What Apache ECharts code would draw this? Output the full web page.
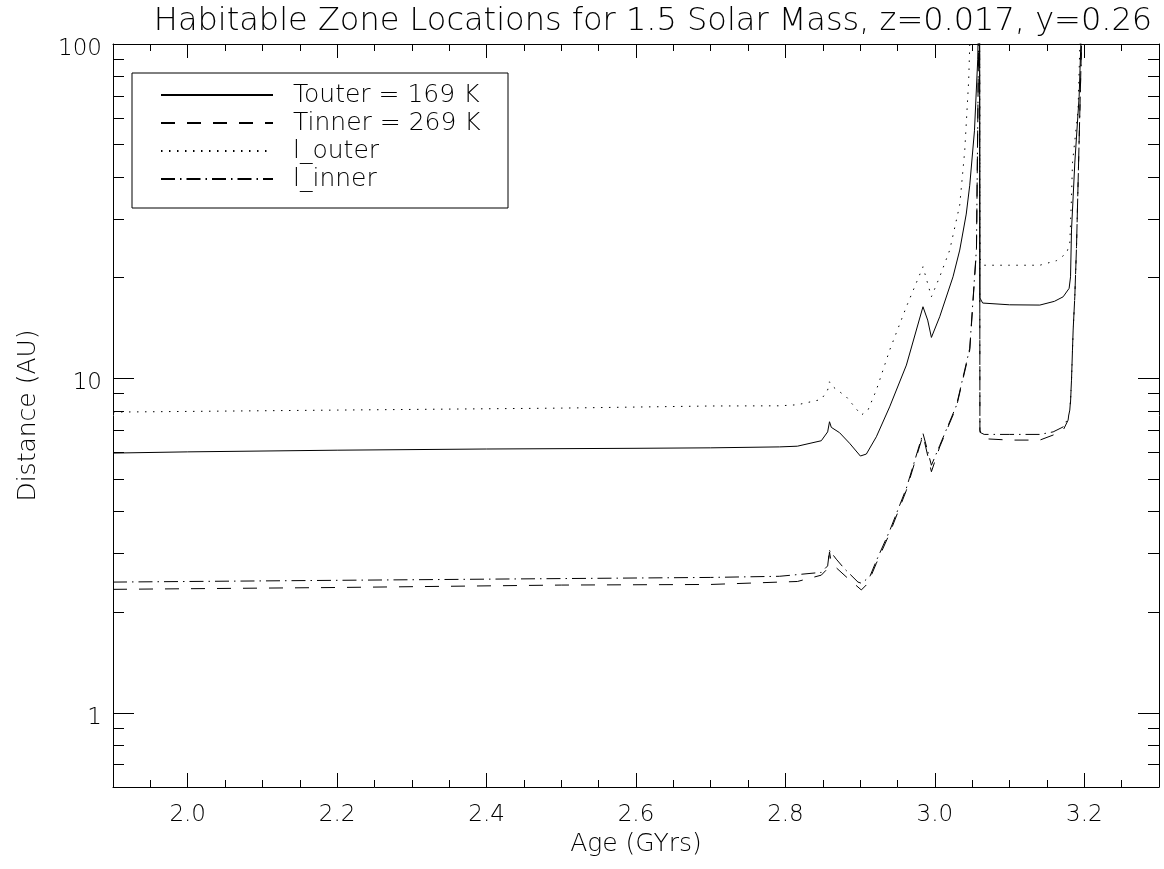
<!DOCTYPE html>
<html><head><meta charset="utf-8">
<script src="https://cdn.jsdelivr.net/npm/echarts@6/dist/echarts.min.js"></script>
<style>html,body{margin:0;padding:0;background:#fff}#chart{width:1164px;height:869px}</style>
</head><body><div id="chart"></div>
<script>
const titleText = 'Habitable Zone Locations for 1.5 Solar Mass, z=0.017, y=0.26';
const xName = 'Age (GYrs)';
const yName = 'Distance (AU)';
const seriesNames = ['Touter = 169 K', 'Tinner = 269 K', 'l_outer', 'l_inner'];

const xMajorTicks = [2.0, 2.2, 2.4, 2.6, 2.8, 3.0, 3.2];
const yMajorTicks = [1, 10, 100];
const yMinorTicks = [0.7, 0.8, 0.9, 2, 3, 4, 5, 6, 7, 8, 9, 20, 30, 40, 50, 60, 70, 80, 90];

// Touter (solid)
const touterAge = [1.9, 2.0, 2.2, 2.4, 2.6, 2.7, 2.792, 2.816, 2.848, 2.8565, 2.859, 2.8614, 2.8725, 2.8858, 2.9003, 2.9083, 2.9217, 2.9395, 2.9619, 2.9841, 2.9904, 2.9954, 3.0065, 3.0243, 3.0333, 3.042, 3.0467, 3.053, 3.0574, 3.059, 3.0598, 3.0603, 3.064, 3.10, 3.1405, 3.16, 3.1717, 3.1797, 3.1816, 3.1829, 3.1851, 3.1873, 3.1931, 3.1954, 3.197];
const touterDist = [5.98, 6.03, 6.10, 6.15, 6.18, 6.20, 6.24, 6.27, 6.51, 6.92, 7.42, 7.14, 6.88, 6.40, 5.86, 5.94, 6.69, 8.22, 10.96, 16.38, 14.94, 13.26, 15.29, 20.13, 24.2, 31, 37.8, 55, 90, 150, 200, 17.4, 16.8, 16.6, 16.57, 17.0, 17.54, 18.59, 20.13, 27.8, 34.9, 44.1, 69.6, 100, 150];

// Tinner (dashed)
const tinnerAge = [1.9, 2.2, 2.5, 2.7, 2.792, 2.816, 2.848, 2.8565, 2.859, 2.8614, 2.8814, 2.9016, 2.9105, 2.9217, 2.9395, 2.9619, 2.9841, 2.9954, 3.0065, 3.0289, 3.0467, 3.0557, 3.0585, 3.0598, 3.0603, 3.066, 3.10, 3.1405, 3.1583, 3.1717, 3.1783, 3.1816, 3.1829, 3.1842, 3.1851, 3.1873, 3.1896, 3.1918, 3.194, 3.1963, 3.199];
const tinnerDist = [2.34, 2.37, 2.41, 2.42, 2.46, 2.47, 2.58, 2.70, 3.03, 2.80, 2.55, 2.33, 2.44, 2.80, 3.44, 4.63, 6.77, 5.26, 6.24, 8.22, 12.15, 24.2, 100, 200, 7.0, 6.6, 6.54, 6.54, 6.77, 7.0, 7.5, 8.5, 9.88, 12.15, 13.95, 17.54, 24.76, 39.2, 62.2, 100, 150];

// l_outer (dotted)
const louterAge = [1.9, 2.2, 2.5, 2.7, 2.792, 2.816, 2.848, 2.8565, 2.859, 2.8636, 2.8815, 2.9016, 2.9105, 2.9217, 2.9395, 2.9619, 2.9841, 2.9954, 3.0065, 3.0199, 3.0333, 3.04, 3.0453, 3.047, 3.0598, 3.0603, 3.066, 3.10, 3.1405, 3.1628, 3.1762, 3.1806, 3.1829, 3.1842, 3.1917, 3.194, 3.197];
const louterDist = [7.93, 8.04, 8.15, 8.27, 8.28, 8.34, 8.65, 9.23, 9.77, 9.44, 8.81, 7.77, 8.04, 9.23, 12.15, 16.38, 21.57, 17.54, 20.13, 24.2, 33, 48, 78, 105, 300, 22.8, 21.8, 21.8, 21.8, 22.5, 23.65, 25.4, 34.9, 44.1, 63.5, 98, 150];

// l_inner (dash-dot)
const linnerAge = [1.9, 2.2, 2.5, 2.7, 2.792, 2.848, 2.8565, 2.859, 2.8681, 2.8788, 2.8971, 2.9016, 2.9128, 2.9217, 2.9395, 2.9619, 2.9841, 2.9954, 3.0065, 3.0289, 3.0467, 3.0557, 3.0585, 3.0598, 3.0603, 3.066, 3.10, 3.1405, 3.1583, 3.1717, 3.1783, 3.1806, 3.1816, 3.1829, 3.1842, 3.1851, 3.1873, 3.1896, 3.1918, 3.194, 3.1963, 3.199];
const linnerDist = [2.46, 2.49, 2.52, 2.54, 2.56, 2.63, 2.75, 3.06, 2.88, 2.70, 2.46, 2.44, 2.55, 2.85, 3.50, 4.70, 6.85, 5.5, 6.3, 8.3, 12.3, 24.5, 100, 200, 6.9, 6.8, 6.80, 6.80, 6.92, 7.16, 7.59, 8.04, 8.61, 9.88, 12.15, 13.95, 17.54, 24.76, 39.2, 62.2, 100, 150];

const FONT = '"DejaVu Sans", sans-serif';
const FW = 200;
const xMin = 1.9, xMax = 3.3, yMin = 0.6, yMax = 100;

const xMinorTicks = [];
for (let i = 38; i <= 66; i++) {
  const v = +(i * 0.05).toFixed(2);
  if (Math.abs(v * 5 - Math.round(v * 5)) > 1e-6) xMinorTicks.push(v);
}

const zip = (a, b) => a.map((x, i) => [x, b[i]]);
const axisLine = { show: true, lineStyle: { color: '#000', width: 1 } };

function xAxisDef(pos, ticks, len, labels, showLine) {
  return {
    type: 'value', min: xMin, max: xMax, position: pos,
    axisLine: showLine ? axisLine : { show: false },
    axisTick: { show: true, inside: true, length: len, customValues: ticks, lineStyle: { color: '#000', width: 1 } },
    axisLabel: labels ? { show: true, customValues: ticks, formatter: v => Number(v).toFixed(1), margin: 17, fontSize: 23, fontFamily: FONT, fontWeight: FW, color: '#000' } : { show: false },
    splitLine: { show: false }
  };
}
function yAxisDef(pos, ticks, len, labels, showLine) {
  return {
    type: 'log', logBase: 10, min: yMin, max: yMax, position: pos,
    axisLine: showLine ? axisLine : { show: false },
    axisTick: { show: true, inside: true, length: len, customValues: ticks, lineStyle: { color: '#000', width: 1 } },
    axisLabel: labels ? { show: true, customValues: ticks, formatter: v => String(Math.round(v)), margin: 11, verticalAlign: 'top', lineHeight: 10, fontSize: 23, fontFamily: FONT, fontWeight: FW, color: '#000' } : { show: false },
    splitLine: { show: false }, minorTick: { show: false }
  };
}

const xAxes = [
  xAxisDef('bottom', xMajorTicks, 14, true, true),
  xAxisDef('bottom', xMinorTicks, 7, false, false),
  xAxisDef('top', xMajorTicks, 14, false, true),
  xAxisDef('top', xMinorTicks, 7, false, false)
];
Object.assign(xAxes[0], { name: xName, nameLocation: 'middle', nameGap: 32, nameTextStyle: { fontSize: 25, fontFamily: FONT, fontWeight: FW, color: '#000' } });

const yAxes = [
  yAxisDef('left', yMinorTicks, 11, false, true),
  yAxisDef('left', yMajorTicks, 21, true, false),
  yAxisDef('right', yMinorTicks, 11, false, true),
  yAxisDef('right', yMajorTicks, 21, false, false)
];
Object.assign(yAxes[1], { name: yName, nameLocation: 'middle', nameGap: 72, nameRotate: 90, nameTextStyle: { fontSize: 25, fontFamily: FONT, fontWeight: FW, color: '#000' } });

const styles = [
  { type: 'solid' },
  { type: [14, 12] },
  { type: [1.5, 6.5] },
  { type: [14, 5, 1.5, 5] }
];
const datasets = [zip(touterAge, touterDist), zip(tinnerAge, tinnerDist), zip(louterAge, louterDist), zip(linnerAge, linnerDist)];

const chart = echarts.init(document.getElementById('chart'), null, { renderer: 'canvas' });
chart.setOption({
  animation: false,
  backgroundColor: '#fff',
  title: {
    text: titleText, left: 648, top: 1, textAlign: 'center',
    textStyle: { fontSize: 32, fontFamily: FONT, fontWeight: FW, color: '#000' }
  },
  grid: { left: 113, right: 5, top: 44, bottom: 82, containLabel: false },
  xAxis: xAxes,
  yAxis: yAxes,
  legend: {
    orient: 'vertical', left: 132, top: 73,
    padding: [8, 12, 15, 28], itemGap: 0, itemWidth: 112, itemHeight: 14,
    borderColor: '#000', borderWidth: 1, selectedMode: false,
    itemStyle: { opacity: 0 },
    textStyle: { fontSize: 25, fontFamily: FONT, fontWeight: FW, color: '#000', width: 203, lineHeight: 28, padding: [0, 0, 0, 15] },
    data: seriesNames
  },
  series: seriesNames.map((n, i) => ({
    name: n, type: 'line', xAxisIndex: 0, yAxisIndex: 0,
    data: datasets[i], symbol: 'none', showSymbol: false, clip: true,
    lineStyle: Object.assign({ color: '#000', width: 1 }, styles[i]),
    itemStyle: { color: '#000' }
  }))
});
</script></body></html>
